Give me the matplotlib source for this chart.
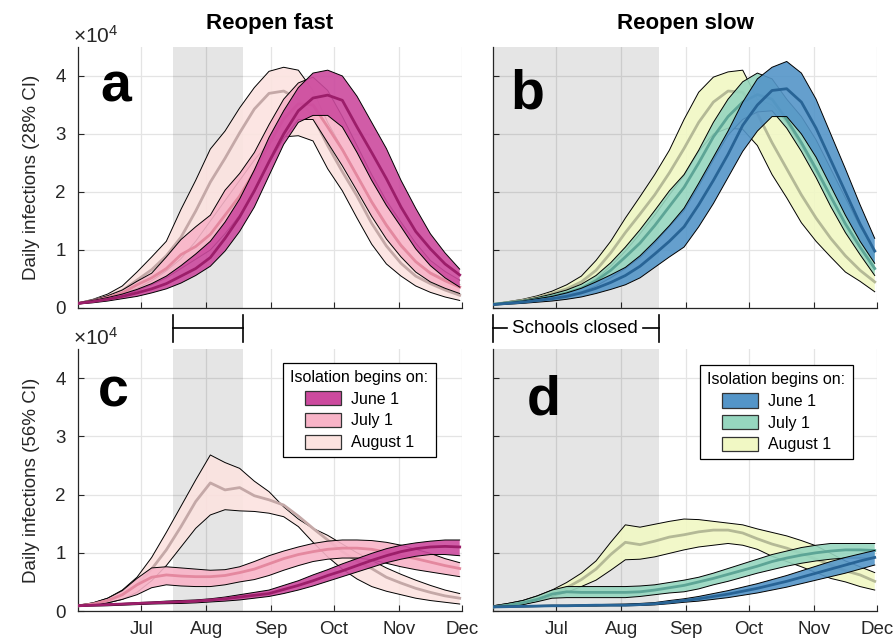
import matplotlib.pyplot as plt
from matplotlib.patches import Patch

plt.rcParams['font.family'] = ['Liberation Sans', 'DejaVu Sans']
plt.rcParams['mathtext.default'] = 'regular'

# days since June 1, sampled weekly
days = [0, 7, 14, 21, 28, 35, 42, 49, 56, 63, 70, 77, 84, 91, 98, 105,
        112, 119, 126, 133, 140, 147, 154, 161, 168, 175, 182]
month_days = [30, 61, 92, 122, 153, 183]
month_labels = ['Jul', 'Aug', 'Sep', 'Oct', 'Nov', 'Dec']
scenario_labels = ['June 1', 'July 1', 'August 1']

# daily infections (x10^4): lower bound, median, upper bound
# a: reopen fast, 28% CI
a_jun_lo = [0.07, 0.09, 0.12, 0.16, 0.20, 0.26, 0.33, 0.43, 0.56, 0.72, 0.98, 1.32, 1.74, 2.28, 2.82, 3.20, 3.32, 3.32, 3.12, 2.68, 2.20, 1.77, 1.40, 1.02, 0.73, 0.52, 0.36]
a_jun_med = [0.08, 0.11, 0.15, 0.20, 0.26, 0.33, 0.42, 0.55, 0.68, 0.87, 1.20, 1.57, 2.02, 2.52, 3.00, 3.40, 3.62, 3.67, 3.58, 3.12, 2.68, 2.23, 1.74, 1.32, 1.02, 0.76, 0.57]
a_jun_hi = [0.09, 0.13, 0.18, 0.24, 0.32, 0.42, 0.55, 0.73, 0.93, 1.15, 1.48, 1.88, 2.38, 2.94, 3.40, 3.80, 4.05, 4.10, 4.00, 3.65, 3.20, 2.75, 2.20, 1.72, 1.28, 0.95, 0.67]
a_jul_lo = [0.07, 0.10, 0.14, 0.20, 0.30, 0.40, 0.52, 0.68, 0.84, 1.00, 1.28, 1.60, 2.00, 2.50, 2.92, 3.25, 3.25, 2.85, 2.45, 2.02, 1.58, 1.19, 0.88, 0.62, 0.45, 0.34, 0.25]
a_jul_med = [0.08, 0.12, 0.18, 0.26, 0.40, 0.52, 0.68, 0.92, 1.06, 1.27, 1.60, 1.93, 2.35, 2.82, 3.26, 3.52, 3.50, 3.12, 2.73, 2.28, 1.83, 1.43, 1.08, 0.80, 0.60, 0.47, 0.36]
a_jul_hi = [0.09, 0.14, 0.21, 0.31, 0.46, 0.60, 0.88, 1.18, 1.40, 1.60, 2.03, 2.32, 2.68, 3.16, 3.60, 3.88, 3.98, 3.75, 3.30, 2.80, 2.30, 1.85, 1.48, 1.12, 0.82, 0.63, 0.48]
a_aug_lo = [0.07, 0.11, 0.16, 0.24, 0.34, 0.47, 0.64, 0.85, 1.15, 1.50, 1.85, 2.20, 2.55, 2.85, 2.95, 2.97, 2.88, 2.40, 2.02, 1.55, 1.10, 0.76, 0.55, 0.38, 0.27, 0.19, 0.13]
a_aug_med = [0.08, 0.13, 0.20, 0.30, 0.48, 0.66, 0.90, 1.22, 1.67, 2.17, 2.58, 3.02, 3.43, 3.70, 3.74, 3.60, 3.30, 2.80, 2.35, 1.93, 1.46, 1.07, 0.77, 0.55, 0.42, 0.31, 0.22]
a_aug_hi = [0.09, 0.15, 0.24, 0.38, 0.62, 0.88, 1.15, 1.70, 2.20, 2.74, 3.05, 3.45, 3.80, 4.08, 4.15, 4.10, 3.75, 3.20, 2.75, 2.30, 1.80, 1.40, 1.05, 0.80, 0.62, 0.50, 0.40]

# b: reopen slow, 28% CI
b_jun_lo = [0.05, 0.065, 0.08, 0.10, 0.12, 0.15, 0.19, 0.25, 0.32, 0.40, 0.52, 0.70, 0.88, 1.05, 1.40, 1.80, 2.25, 2.70, 3.05, 3.30, 3.30, 3.00, 2.60, 2.10, 1.60, 1.15, 0.77]
b_jun_med = [0.06, 0.08, 0.10, 0.13, 0.16, 0.20, 0.26, 0.34, 0.44, 0.56, 0.72, 0.93, 1.15, 1.40, 1.78, 2.20, 2.65, 3.15, 3.50, 3.75, 3.78, 3.55, 3.10, 2.55, 2.00, 1.45, 0.98]
b_jun_hi = [0.07, 0.09, 0.12, 0.16, 0.20, 0.26, 0.34, 0.45, 0.57, 0.70, 0.90, 1.15, 1.42, 1.72, 2.15, 2.60, 3.05, 3.55, 3.95, 4.15, 4.25, 4.05, 3.60, 3.00, 2.40, 1.78, 1.20]
b_jul_lo = [0.06, 0.08, 0.10, 0.13, 0.17, 0.22, 0.28, 0.38, 0.52, 0.68, 0.87, 1.12, 1.40, 1.68, 2.10, 2.55, 2.98, 3.25, 3.38, 3.40, 3.10, 2.70, 2.25, 1.75, 1.30, 0.92, 0.56]
b_jul_med = [0.065, 0.09, 0.115, 0.155, 0.20, 0.26, 0.34, 0.47, 0.65, 0.88, 1.12, 1.42, 1.75, 2.08, 2.50, 2.95, 3.30, 3.55, 3.68, 3.60, 3.25, 2.85, 2.40, 1.92, 1.45, 1.05, 0.68]
b_jul_hi = [0.07, 0.10, 0.13, 0.18, 0.24, 0.31, 0.41, 0.56, 0.78, 1.05, 1.35, 1.68, 2.02, 2.30, 2.72, 3.20, 3.60, 3.90, 4.05, 3.95, 3.60, 3.30, 2.90, 2.40, 1.90, 1.40, 1.00]
b_aug_lo = [0.06, 0.08, 0.11, 0.15, 0.20, 0.26, 0.35, 0.50, 0.72, 0.98, 1.28, 1.60, 1.95, 2.28, 2.70, 3.00, 3.10, 3.08, 2.80, 2.30, 1.90, 1.47, 1.15, 0.88, 0.62, 0.46, 0.28]
b_aug_med = [0.065, 0.095, 0.13, 0.18, 0.25, 0.33, 0.45, 0.65, 0.95, 1.30, 1.62, 1.95, 2.33, 2.75, 3.20, 3.55, 3.74, 3.72, 3.35, 2.85, 2.40, 1.95, 1.55, 1.20, 0.90, 0.65, 0.45]
b_aug_hi = [0.07, 0.11, 0.15, 0.21, 0.29, 0.40, 0.55, 0.82, 1.15, 1.55, 1.92, 2.30, 2.72, 3.25, 3.72, 3.98, 4.07, 4.10, 3.60, 3.50, 3.20, 2.80, 2.35, 1.90, 1.45, 1.05, 0.70]

# c: reopen fast, 56% CI
c_jun_lo = [0.08, 0.085, 0.09, 0.10, 0.11, 0.12, 0.125, 0.13, 0.14, 0.155, 0.17, 0.19, 0.22, 0.25, 0.30, 0.36, 0.43, 0.51, 0.59, 0.67, 0.75, 0.83, 0.89, 0.94, 0.97, 0.97, 0.95]
c_jun_med = [0.09, 0.10, 0.11, 0.12, 0.13, 0.14, 0.15, 0.16, 0.17, 0.19, 0.21, 0.24, 0.27, 0.30, 0.37, 0.44, 0.52, 0.61, 0.69, 0.78, 0.87, 0.95, 1.02, 1.07, 1.10, 1.11, 1.10]
c_jun_hi = [0.10, 0.11, 0.12, 0.13, 0.145, 0.155, 0.17, 0.18, 0.19, 0.21, 0.24, 0.28, 0.32, 0.36, 0.44, 0.52, 0.62, 0.71, 0.81, 0.90, 0.99, 1.07, 1.13, 1.17, 1.20, 1.22, 1.22]
c_jul_lo = [0.08, 0.10, 0.14, 0.20, 0.28, 0.40, 0.45, 0.43, 0.42, 0.42, 0.45, 0.50, 0.54, 0.61, 0.70, 0.78, 0.85, 0.89, 0.91, 0.91, 0.88, 0.82, 0.76, 0.71, 0.67, 0.63, 0.59]
c_jul_med = [0.09, 0.12, 0.18, 0.28, 0.45, 0.58, 0.62, 0.60, 0.59, 0.59, 0.61, 0.66, 0.72, 0.81, 0.90, 0.97, 1.02, 1.06, 1.08, 1.08, 1.06, 1.01, 0.95, 0.90, 0.84, 0.78, 0.73]
c_jul_hi = [0.10, 0.14, 0.22, 0.35, 0.56, 0.74, 0.76, 0.74, 0.72, 0.70, 0.71, 0.76, 0.85, 0.95, 1.03, 1.10, 1.16, 1.20, 1.22, 1.22, 1.21, 1.18, 1.13, 1.06, 0.99, 0.90, 0.83]
c_aug_lo = [0.08, 0.10, 0.14, 0.20, 0.32, 0.52, 0.78, 1.10, 1.42, 1.65, 1.74, 1.72, 1.71, 1.68, 1.62, 1.45, 1.18, 0.93, 0.72, 0.55, 0.42, 0.34, 0.28, 0.22, 0.18, 0.15, 0.12]
c_aug_med = [0.09, 0.12, 0.18, 0.28, 0.45, 0.72, 1.05, 1.45, 1.88, 2.20, 2.08, 2.12, 1.98, 1.91, 1.82, 1.63, 1.42, 1.22, 1.02, 0.86, 0.73, 0.58, 0.48, 0.39, 0.32, 0.26, 0.22]
c_aug_hi = [0.10, 0.14, 0.22, 0.36, 0.58, 0.92, 1.35, 1.80, 2.25, 2.68, 2.55, 2.45, 2.23, 2.05, 1.79, 1.58, 1.42, 1.30, 1.15, 1.00, 0.87, 0.74, 0.63, 0.53, 0.44, 0.36, 0.30]

# d: reopen slow, 56% CI
d_jun_lo = [0.06, 0.065, 0.07, 0.075, 0.08, 0.08, 0.085, 0.085, 0.09, 0.09, 0.095, 0.105, 0.125, 0.15, 0.17, 0.20, 0.23, 0.27, 0.31, 0.36, 0.41, 0.47, 0.53, 0.59, 0.65, 0.72, 0.79]
d_jun_med = [0.07, 0.075, 0.08, 0.085, 0.09, 0.09, 0.095, 0.10, 0.10, 0.10, 0.11, 0.125, 0.15, 0.18, 0.21, 0.25, 0.29, 0.34, 0.39, 0.45, 0.51, 0.58, 0.65, 0.72, 0.79, 0.86, 0.92]
d_jun_hi = [0.08, 0.085, 0.09, 0.095, 0.10, 0.10, 0.105, 0.11, 0.115, 0.12, 0.13, 0.145, 0.18, 0.21, 0.25, 0.30, 0.35, 0.41, 0.47, 0.54, 0.61, 0.69, 0.77, 0.85, 0.92, 0.98, 1.04]
d_jul_lo = [0.06, 0.08, 0.11, 0.16, 0.22, 0.23, 0.23, 0.23, 0.23, 0.23, 0.25, 0.28, 0.31, 0.33, 0.38, 0.45, 0.51, 0.58, 0.65, 0.71, 0.77, 0.82, 0.86, 0.89, 0.91, 0.91, 0.91]
d_jul_med = [0.07, 0.10, 0.14, 0.20, 0.29, 0.33, 0.32, 0.32, 0.32, 0.32, 0.33, 0.36, 0.40, 0.44, 0.50, 0.56, 0.63, 0.70, 0.77, 0.85, 0.91, 0.96, 1.00, 1.03, 1.05, 1.05, 1.04]
d_jul_hi = [0.09, 0.13, 0.18, 0.26, 0.36, 0.42, 0.42, 0.42, 0.42, 0.42, 0.43, 0.45, 0.49, 0.53, 0.58, 0.65, 0.73, 0.81, 0.89, 0.97, 1.03, 1.09, 1.13, 1.16, 1.16, 1.16, 1.16]
d_aug_lo = [0.06, 0.08, 0.11, 0.17, 0.25, 0.32, 0.42, 0.53, 0.70, 0.88, 0.89, 0.93, 0.99, 1.05, 1.10, 1.13, 1.16, 1.13, 1.06, 0.94, 0.85, 0.76, 0.66, 0.56, 0.50, 0.42, 0.36]
d_aug_med = [0.07, 0.10, 0.14, 0.21, 0.30, 0.40, 0.54, 0.72, 0.97, 1.18, 1.14, 1.20, 1.27, 1.31, 1.36, 1.39, 1.39, 1.34, 1.24, 1.15, 1.08, 0.99, 0.89, 0.79, 0.69, 0.62, 0.51]
d_aug_hi = [0.09, 0.13, 0.18, 0.26, 0.36, 0.49, 0.65, 0.86, 1.18, 1.48, 1.44, 1.49, 1.54, 1.58, 1.57, 1.54, 1.51, 1.48, 1.41, 1.35, 1.29, 1.21, 1.12, 0.99, 0.86, 0.76, 0.66]

# schools closed (days since June 1)
fast_closed = (45, 78.5)
slow_closed = (0, 79)

fast_fill = ['#CC4A9E', '#F8B4C8', '#FCE3E0']
fast_med = ['#9C1E6A', '#E4889F', '#C4A8A7']
slow_fill = ['#5495C8', '#96D6BF', '#F1F8C4']
slow_med = ['#286496', '#5DA596', '#B4B996']

dark = '#262626'


def draw_bands(ax, bands, fills, meds):
    # draw August first, June last (on top)
    for i in [2, 1, 0]:
        lo, med, hi = bands[i]
        z = 3 + 3 * (2 - i)
        ax.fill_between(days, lo, hi, facecolor=fills[i], edgecolor='none',
                        alpha=0.9, zorder=z)
        ax.plot(days, lo, color='k', lw=0.7, zorder=z + 1)
        ax.plot(days, hi, color='k', lw=0.7, zorder=z + 1)
        ax.plot(days, med, color=meds[i], lw=2.0, zorder=z + 1)


def style_axes(ax, closed, left_col, bottom_row):
    ax.set_xlim(0, 183)
    ax.set_ylim(0, 4.5)
    ax.set_xticks(month_days)
    ax.set_xticklabels(month_labels)
    ax.set_yticks([0, 1, 2, 3, 4])
    ax.set_axisbelow(True)
    ax.grid(True, color='#e4e4e4', lw=0.9)
    ax.axvspan(closed[0], closed[1], color='k', alpha=0.1, lw=0, zorder=1)
    for s in ['top', 'right']:
        ax.spines[s].set_visible(False)
    for s in ['left', 'bottom']:
        ax.spines[s].set_color(dark)
        ax.spines[s].set_linewidth(0.9)
    ax.tick_params(direction='in', length=4, colors=dark, labelsize=13.5,
                   labelleft=left_col, labelbottom=bottom_row)
    ax.tick_params(axis='y', pad=9)
    ax.tick_params(axis='x', pad=7)
    if left_col:
        ax.text(-0.014, 1.0, r'$\times10^{4}$', transform=ax.transAxes,
                fontsize=15, color=dark, ha='left', va='bottom')


fig = plt.figure(figsize=(8.96, 6.39), dpi=100)
ax_a = fig.add_axes([0.0874, 0.518, 0.428, 0.4085])
ax_b = fig.add_axes([0.5506, 0.518, 0.428, 0.4085])
ax_c = fig.add_axes([0.0874, 0.0438, 0.428, 0.41])
ax_d = fig.add_axes([0.5506, 0.0438, 0.428, 0.41])

style_axes(ax_a, fast_closed, True, False)
style_axes(ax_b, slow_closed, False, False)
style_axes(ax_c, fast_closed, True, True)
style_axes(ax_d, slow_closed, False, True)

draw_bands(ax_a, [(a_jun_lo, a_jun_med, a_jun_hi), (a_jul_lo, a_jul_med, a_jul_hi),
                  (a_aug_lo, a_aug_med, a_aug_hi)], fast_fill, fast_med)
draw_bands(ax_b, [(b_jun_lo, b_jun_med, b_jun_hi), (b_jul_lo, b_jul_med, b_jul_hi),
                  (b_aug_lo, b_aug_med, b_aug_hi)], slow_fill, slow_med)
draw_bands(ax_c, [(c_jun_lo, c_jun_med, c_jun_hi), (c_jul_lo, c_jul_med, c_jul_hi),
                  (c_aug_lo, c_aug_med, c_aug_hi)], fast_fill, fast_med)
draw_bands(ax_d, [(d_jun_lo, d_jun_med, d_jun_hi), (d_jul_lo, d_jul_med, d_jul_hi),
                  (d_aug_lo, d_aug_med, d_aug_hi)], slow_fill, slow_med)

ax_a.set_title('Reopen fast', fontsize=16, fontweight='bold', pad=13)
ax_b.set_title('Reopen slow', fontsize=16, fontweight='bold', pad=13)
ax_a.set_ylabel('Daily infections (28% CI)', fontsize=13.5, color=dark, labelpad=11)
ax_c.set_ylabel('Daily infections (56% CI)', fontsize=13.5, color=dark, labelpad=11)

# panel letters
for ax, letter, x, y in [(ax_a, 'a', 0.057, 0.79), (ax_b, 'b', 0.044, 0.766),
                         (ax_c, 'c', 0.052, 0.78), (ax_d, 'd', 0.088, 0.75)]:
    ax.text(x, y, letter, transform=ax.transAxes, fontsize=40,
            fontweight='bold', va='baseline', ha='left', zorder=20)

# legends
for ax, fills, anchor in [(ax_c, fast_fill, (0.534, 0.947)),
                          (ax_d, slow_fill, (0.539, 0.939))]:
    handles = [Patch(facecolor=f, edgecolor='#333333', lw=0.9) for f in fills]
    leg = ax.legend(handles, scenario_labels, title='Isolation begins on:',
                    loc='upper left', bbox_to_anchor=anchor, fontsize=11.5,
                    title_fontsize=11.5, fancybox=False, framealpha=1,
                    edgecolor='k', handlelength=2.3, handleheight=1.0,
                    labelspacing=0.38, borderaxespad=0, borderpad=0.45,
                    handletextpad=0.6)
    leg.get_frame().set_linewidth(0.9)
    leg.set_zorder(30)

# schools-closed brackets between the rows
tr_a = ax_a.get_xaxis_transform()
ax_a.plot(fast_closed, [-0.078, -0.078], color='k', lw=1.2, transform=tr_a, clip_on=False)
for xv in fast_closed:
    ax_a.plot([xv, xv], [-0.027, -0.129], color='k', lw=1.2, transform=tr_a, clip_on=False)

tr_b = ax_b.get_xaxis_transform()
for xv in slow_closed:
    ax_b.plot([xv, xv], [-0.027, -0.129], color='k', lw=1.2, transform=tr_b, clip_on=False)
ax_b.plot([0, 6.5], [-0.078, -0.078], color='k', lw=1.2, transform=tr_b, clip_on=False)
ax_b.plot([71.5, 79], [-0.078, -0.078], color='k', lw=1.2, transform=tr_b, clip_on=False)
ax_b.text(39, -0.078, 'Schools closed', transform=tr_b, fontsize=13.5,
          ha='center', va='center', color='k')

fig.savefig('out.png', dpi=100)
